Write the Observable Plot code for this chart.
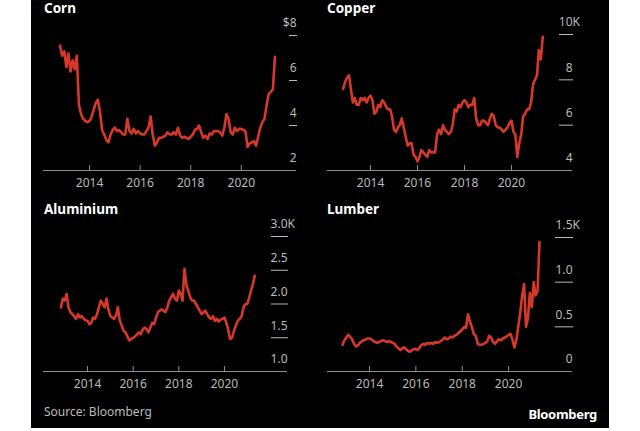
<!DOCTYPE html>
<html><head><meta charset="utf-8">
<script src="https://cdn.jsdelivr.net/npm/d3@7"></script>
<script src="https://cdn.jsdelivr.net/npm/@observablehq/plot@0.6"></script>
<style>
html,body{margin:0;padding:0;background:#fff;}
#board{position:absolute;left:31px;top:0;width:578px;height:428px;background:#000;overflow:hidden;font-family:"Noto Sans",sans-serif;}
.title{position:absolute;color:#fff;font-weight:700;font-size:13.5px;line-height:13px;white-space:nowrap;}
.panel{position:absolute;}
.panel svg{overflow:visible;}
#source{position:absolute;left:13px;top:406px;color:#bbb;font-size:12px;line-height:12px;}
#logo{position:absolute;right:12px;top:408px;color:#fff;font-weight:700;font-size:13px;line-height:13px;letter-spacing:-0.3px;}
</style></head>
<body>
<div id="board">
  <div class="title" style="left:13px;top:2px">Corn</div>
  <div class="title" style="left:296px;top:2px">Copper</div>
  <div class="title" style="left:13px;top:203px">Aluminium</div>
  <div class="title" style="left:296px;top:203px">Lumber</div>
  <div class="panel" id="p-corn" style="left:0;top:15px"></div>
  <div class="panel" id="p-copper" style="left:283px;top:15px"></div>
  <div class="panel" id="p-alu" style="left:0;top:215px"></div>
  <div class="panel" id="p-lumber" style="left:283px;top:215px"></div>
  <div id="source">Source: Bloomberg</div>
  <div id="logo">Bloomberg</div>
</div>
<script>
// Monthly observations, Nov 2012 .. May 2021
const firstMonth = new Date(Date.UTC(2012, 10, 1));
const afterLastMonth = new Date(Date.UTC(2021, 5, 1));
const months = d3.utcMonth.range(firstMonth, afterLastMonth);

const yearLabels = [2014, 2016, 2018, 2020];

// Corn, $ per bushel
const corn = [
  7.55, 7.1,
  7.3, 6.6, 7.2, 6.4, 6.9, 6.5, 7.1, 4.9, 4.5, 4.3, 4.2, 4.15,
  4.2, 4.4, 4.7, 5.0, 5.15, 4.6, 3.8, 3.6, 3.35, 3.25, 3.6, 3.8,
  3.9, 3.75, 3.8, 3.7, 3.6, 3.6, 4.3, 3.75, 3.65, 3.85, 3.65, 3.75,
  3.65, 3.6, 3.6, 3.75, 3.9, 4.4, 3.6, 3.1, 3.25, 3.45, 3.45, 3.5,
  3.55, 3.7, 3.6, 3.6, 3.7, 3.6, 3.9, 3.55, 3.45, 3.5, 3.45, 3.4,
  3.5, 3.6, 3.8, 3.85, 4.0, 3.7, 3.45, 3.55, 3.4, 3.65, 3.6, 3.75,
  3.75, 3.75, 3.7, 3.55, 3.9, 4.5, 4.3, 3.7, 3.6, 3.9, 3.75, 3.85,
  3.85, 3.8, 3.75, 3.05, 3.2, 3.25, 3.3, 3.1, 3.5, 3.9, 4.15, 4.3,
  4.9, 5.4, 5.5, 5.6, 7.05
];
// Copper, $ thousand per ton
const copper = [
  7.6, 7.9,
  8.1, 8.2, 7.6, 7.0, 7.2, 6.9, 6.9, 7.2, 7.1, 7.2, 7.0, 7.2,
  7.3, 7.1, 6.5, 6.6, 6.9, 6.8, 7.1, 7.0, 6.8, 6.7, 6.7, 6.4,
  5.8, 5.7, 5.9, 6.0, 6.3, 5.9, 5.5, 5.1, 5.2, 5.2, 4.7, 4.6,
  4.4, 4.6, 4.9, 4.8, 4.7, 4.6, 4.9, 4.8, 4.8, 4.8, 5.6, 5.8,
  5.6, 6.0, 5.8, 5.7, 5.6, 5.7, 6.0, 6.7, 6.6, 6.9, 6.8, 7.0,
  7.1, 7.0, 6.8, 6.9, 6.9, 7.2, 6.3, 6.0, 6.0, 6.2, 6.2, 6.1,
  6.0, 6.3, 6.5, 6.4, 6.0, 5.9, 5.9, 5.8, 5.7, 5.8, 5.9, 6.1,
  6.2, 5.7, 5.6, 4.6, 5.2, 5.6, 6.4, 6.5, 6.7, 6.7, 7.0, 7.8,
  8.0, 8.2, 9.3, 8.9, 9.9
];
// Aluminium, $ thousand per ton
const aluminium = [
  1.95, 2.08,
  2.05, 2.15, 1.95, 1.88, 1.85, 1.82, 1.78, 1.85, 1.80, 1.82, 1.78, 1.76,
  1.75, 1.70, 1.72, 1.80, 1.78, 1.85, 1.95, 2.05, 2.00, 1.95, 2.08, 1.92,
  1.82, 1.80, 1.78, 1.83, 1.95, 1.75, 1.68, 1.60, 1.58, 1.52, 1.46, 1.48,
  1.50, 1.52, 1.55, 1.58, 1.55, 1.62, 1.65, 1.63, 1.58, 1.65, 1.72, 1.70,
  1.80, 1.88, 1.90, 1.92, 1.90, 1.88, 1.95, 2.05, 2.10, 2.15, 2.08, 2.05,
  2.20, 2.15, 2.05, 2.52, 2.28, 2.20, 2.10, 2.05, 2.05, 2.00, 1.95, 1.90,
  1.85, 1.88, 1.90, 1.85, 1.80, 1.78, 1.82, 1.75, 1.78, 1.74, 1.77, 1.78,
  1.80, 1.72, 1.62, 1.48, 1.50, 1.60, 1.68, 1.75, 1.78, 1.82, 1.95, 2.00,
  2.00, 2.10, 2.20, 2.30, 2.42
];
// Lumber, $ thousand per 1,000 board feet
const lumber = [
  0.30, 0.35,
  0.38, 0.41, 0.39, 0.36, 0.31, 0.28, 0.29, 0.32, 0.34, 0.35, 0.36, 0.37,
  0.37, 0.36, 0.34, 0.33, 0.32, 0.33, 0.34, 0.35, 0.34, 0.33, 0.34, 0.33,
  0.32, 0.31, 0.28, 0.26, 0.24, 0.26, 0.27, 0.25, 0.23, 0.22, 0.24, 0.25,
  0.25, 0.24, 0.27, 0.30, 0.31, 0.30, 0.32, 0.31, 0.32, 0.31, 0.33, 0.32,
  0.33, 0.34, 0.36, 0.38, 0.36, 0.37, 0.39, 0.38, 0.40, 0.41, 0.43, 0.45,
  0.47, 0.50, 0.49, 0.64, 0.56, 0.50, 0.42, 0.40, 0.31, 0.30, 0.30, 0.31,
  0.32, 0.34, 0.40, 0.38, 0.33, 0.31, 0.34, 0.36, 0.35, 0.37, 0.38, 0.39,
  0.41, 0.42, 0.36, 0.27, 0.35, 0.50, 0.65, 0.85, 0.98, 0.50, 0.60, 0.88,
  0.72, 1.00, 0.85, 0.90, 1.45
];

const cornTicks = [2, 4, 6, 8];
const copperTicks = [4, 6, 8, 10];
const aluTicks = [1.0, 1.5, 2.0, 2.5, 3.0];
const lumberTicks = [0, 0.5, 1.0, 1.5];

const lineColor = "#d6382a";
const axisColor = "#8f8f8f";
const labelColor = "#b9b9b9";

function panel(o) {
  const data = months.map((d, i) => ({date: d, value: o.values[i]}));
  const yearTicks = yearLabels.map(y => new Date(Date.UTC(y, 0, 1)));
  const frameH = o.height - o.mt - o.mb;
  const top = o.ticks[o.ticks.length - 1];
  return Plot.plot({
    width: o.width, height: o.height,
    marginTop: o.mt, marginBottom: o.mb, marginLeft: o.ml, marginRight: o.mr,
    style: {background: "transparent", color: labelColor, fontFamily: "'Noto Sans', sans-serif", fontSize: "12px", overflow: "visible"},
    x: {type: "utc", domain: o.xDomain, axis: null, label: null},
    y: {domain: [o.ticks[0], top], axis: null, label: null},
    marks: [
      Plot.ruleY([o.ticks[0]], {stroke: axisColor, strokeWidth: 1, insetRight: -o.dash}),
      Plot.ruleX(yearTicks, {x: d => d, stroke: axisColor, insetTop: frameH - 5}),
      Plot.axisX(yearTicks, {label: null, tickSize: 0, tickPadding: 8, tickFormat: d => String(d.getUTCFullYear()), fill: labelColor, fontSize: 12}),
      Plot.axisY(o.ticks.slice(1), {label: null, anchor: "right", tickSize: o.dash, tickFormat: () => "", stroke: labelColor}),
      Plot.axisY(o.ticks, {label: null, anchor: "right", tickSize: 0, tickPadding: o.dash, textAnchor: "end", dy: -12,
        tickFormat: d => (d === top ? o.prefix : "") + o.fmt(d), fill: labelColor, fontSize: 12}),
      Plot.text([top], {y: d => d, frameAnchor: "right", dx: o.dash, dy: -12, text: () => o.suffix, textAnchor: "start", fill: labelColor, fontSize: 12}),
      Plot.line(data, {x: "date", y: "value", stroke: lineColor, strokeWidth: 2.6, strokeLinejoin: "round"})
    ]
  });
}

const utc = (y, m, d) => new Date(Date.UTC(y, m, d));

document.getElementById("p-corn").append(panel({
  values: corn, ticks: cornTicks, fmt: d => String(d), prefix: "$", suffix: "",
  xDomain: [utc(2012, 2, 7), utc(2021, 10, 13)], dash: 8,
  width: 290, height: 180, mt: 20, mb: 25, ml: 12, mr: 33
}));
document.getElementById("p-copper").append(panel({
  values: copper, ticks: copperTicks, fmt: d => String(d), prefix: "", suffix: "K",
  xDomain: [utc(2012, 2, 3), utc(2022, 0, 1)], dash: 14,
  width: 290, height: 180, mt: 19, mb: 25, ml: 13, mr: 46
}));
document.getElementById("p-alu").append(panel({
  values: aluminium, ticks: aluTicks, fmt: d3.format(".1f"), prefix: "", suffix: "K",
  xDomain: [utc(2012, 0, 27), utc(2022, 0, 7)], dash: 17,
  width: 290, height: 180, mt: 21, mb: 24, ml: 12, mr: 51
}));
document.getElementById("p-lumber").append(panel({
  values: lumber, ticks: lumberTicks, fmt: d => d === 0 ? "0" : d3.format(".1f")(d), prefix: "", suffix: "K",
  xDomain: [utc(2012, 2, 10), utc(2021, 11, 24)], dash: 18,
  width: 290, height: 180, mt: 22, mb: 24, ml: 13, mr: 50
}));
</script>
</body></html>
